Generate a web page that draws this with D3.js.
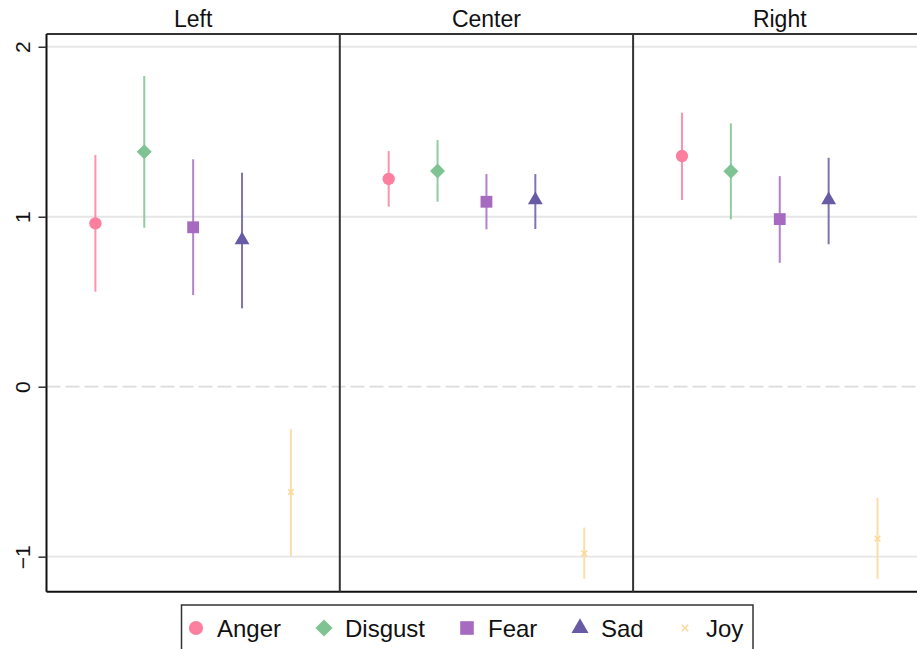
<!DOCTYPE html>
<html>
<head>
<meta charset="utf-8">
<script src="https://cdn.jsdelivr.net/npm/d3@7"></script>
<style>
  html, body { margin: 0; padding: 0; background: #fff; }
  svg { display: block; font-family: "Liberation Sans", Arial, sans-serif; }
</style>
</head>
<body>
<svg id="chart" width="917" height="649"></svg>
<script>
// Panels (political leaning) and emotion categories
const panels = ["Left", "Center", "Right"];
const emotions = ["Anger", "Disgust", "Fear", "Sad", "Joy"];
const colors = ["#fd7f9f", "#7fc393", "#a66bc0", "#685aa5", "#fcd89a"];
const shapes = ["circle", "diamond", "square", "triangle", "times"];

// Point estimates per panel (rows: panels, columns: emotions)
const estimates = [
  [0.961, 1.382, 0.938, 0.863, -0.620],
  [1.222, 1.269, 1.088, 1.098, -0.980],
  [1.357, 1.267, 0.986, 1.098, -0.894]
];
// Confidence interval bounds
const lower = [
  [0.559, 0.935, 0.539, 0.461, -0.998],
  [1.059, 1.088, 0.926, 0.928, -1.131],
  [1.098, 0.985, 0.729, 0.838, -1.131]
];
const upper = [
  [1.363, 1.828, 1.338, 1.259, -0.249],
  [1.386, 1.451, 1.251, 1.251, -0.829],
  [1.612, 1.549, 1.239, 1.347, -0.653]
];
const yTicks = [-1, 0, 1, 2];

const svg = d3.select("#chart");
const plotLeft = 46.5, plotTop = 34, plotBottom = 591.7;
const panelW = 293.3;

const y = d3.scaleLinear().domain([-1.206, 2.075]).range([plotBottom, plotTop]);
const xPanel = d3.scaleBand().domain(panels).range([plotLeft, plotLeft + panelW * 3]);
const x = d3.scalePoint().domain(emotions).range([0, panelW]).padding(1);

// Horizontal reference lines
const grid = svg.append("g");
yTicks.forEach(t => {
  grid.append("line")
    .attr("x1", plotLeft).attr("x2", plotLeft + panelW * 3)
    .attr("y1", y(t)).attr("y2", y(t))
    .attr("stroke", t === 0 ? "#dcdcdc" : "#e6e6e6")
    .attr("stroke-width", 1.8)
    .attr("stroke-dasharray", t === 0 ? "14,5" : null);
});

// Marker shapes; the diamond is a square turned 45 degrees
function drawMarker(sel, shape, color, cx, cy, scale) {
  const k = scale || 1;
  const defs = {
    circle: [d3.symbolCircle, 120, 0],
    diamond: [d3.symbolSquare, 112, 45],
    square: [d3.symbolSquare, 140, 0],
    triangle: [d3.symbolTriangle, 95, 0],
    times: [d3.symbolTimes, 22, 0]
  };
  const [type, size, rot] = defs[shape];
  const m = sel.append("path")
    .attr("d", d3.symbol().type(type).size(size * k * k)())
    .attr("transform", `translate(${cx},${cy}) rotate(${rot})`);
  if (shape === "times") {
    m.attr("fill", "none").attr("stroke", color).attr("stroke-width", 1.6);
  } else {
    m.attr("fill", color);
  }
  return m;
}

// Panels with error bars and markers
panels.forEach((p, pi) => {
  const g = svg.append("g").attr("transform", `translate(${xPanel(p)},0)`);
  emotions.forEach((e, ei) => {
    const cx = x(e);
    g.append("line")
      .attr("x1", cx).attr("x2", cx)
      .attr("y1", y(lower[pi][ei])).attr("y2", y(upper[pi][ei]))
      .attr("stroke", colors[ei])
      .attr("stroke-opacity", 0.85)
      .attr("stroke-width", 2);
    drawMarker(g, shapes[ei], colors[ei], cx, y(estimates[pi][ei]));
  });
  // Panel title
  svg.append("text")
    .attr("x", xPanel(p) + panelW / 2)
    .attr("y", 27)
    .attr("text-anchor", "middle")
    .attr("font-size", 23)
    .attr("fill", "#111")
    .text(p);
});

// Frame: top, bottom, dividers
const frame = svg.append("g").attr("stroke", "#333").attr("stroke-width", 2);
frame.append("line").attr("x1", plotLeft).attr("x2", 917).attr("y1", plotTop).attr("y2", plotTop);
frame.append("line").attr("x1", plotLeft).attr("x2", 917).attr("y1", plotBottom).attr("y2", plotBottom).attr("stroke", "#111");
[1, 2].forEach(i => {
  frame.append("line")
    .attr("x1", plotLeft + panelW * i).attr("x2", plotLeft + panelW * i)
    .attr("y1", plotTop).attr("y2", plotBottom);
});

// Y axis
const yAxis = svg.append("g").attr("transform", `translate(${plotLeft},0)`)
  .call(d3.axisLeft(y).tickValues(yTicks).tickSize(8).tickFormat(d3.format("d")));
yAxis.select(".domain").attr("stroke", "#111").attr("stroke-width", 2)
  .attr("d", `M0,${plotTop}V${plotBottom}`);
yAxis.selectAll(".tick line").attr("stroke", "#333").attr("stroke-width", 1.5);
yAxis.selectAll(".tick text")
  .attr("x", null).attr("dy", null)
  .attr("font-size", 21)
  .attr("fill", "#111")
  .attr("text-anchor", "middle")
  .attr("transform", "translate(-16.5,0) rotate(-90)");

// Legend
const legend = svg.append("g");
legend.append("rect")
  .attr("x", 181.5).attr("y", 605).attr("width", 571.5).attr("height", 55)
  .attr("fill", "#fff").attr("stroke", "#333").attr("stroke-width", 1.5);
const legendX = [196, 324, 467, 580, 685];
emotions.forEach((e, ei) => {
  drawMarker(legend, shapes[ei], colors[ei], legendX[ei], 628, 1.15);
  legend.append("text")
    .attr("x", legendX[ei] + 21)
    .attr("y", 636.5)
    .attr("font-size", 24)
    .attr("fill", "#111")
    .text(e);
});
</script>
</body>
</html>
